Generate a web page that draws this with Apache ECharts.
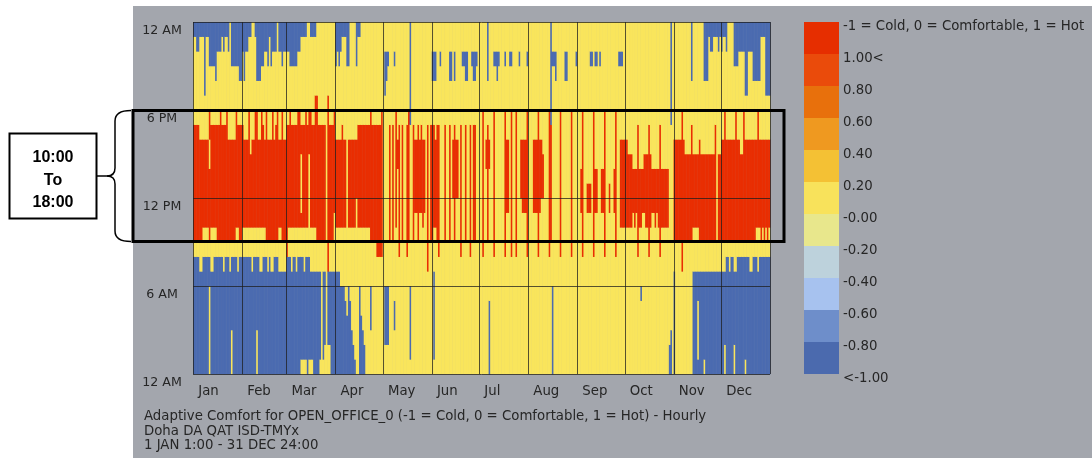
<!DOCTYPE html>
<html>
<head>
<meta charset="utf-8">
<script src="https://cdn.jsdelivr.net/npm/echarts@6/dist/echarts.min.js"></script>
<style>
html,body{margin:0;padding:0;background:#fff}
#chart{width:1092px;height:461px}
</style>
</head>
<body>
<div id="chart"></div>
<script>
// Month names and the day index each month starts on (365-day year)
const monthNames = ['Jan','Feb','Mar','Apr','May','Jun','Jul','Aug','Sep','Oct','Nov','Dec'];
const monthStarts = [0,31,59,90,120,151,181,212,243,273,304,334,365];
// Hour-of-day ticks on the vertical axis
const hourTicks = [0,6,12,18,24];
const hourLabels = ['12 AM','6 AM','12 PM','6 PM','12 AM'];
// Colour legend: title, boundary labels and the eleven colour steps (top to bottom)
const legendTitle = '-1 = Cold, 0 = Comfortable, 1 = Hot';
const legendLabels = ['1.00<','0.80','0.60','0.40','0.20','-0.00','-0.20','-0.40','-0.60','-0.80','<-1.00'];
const legendColors = ['#E62E00','#EA4B0B','#E8700C','#EF9920','#F4C134','#F8E25B','#E8E78C','#BDD2DC','#A7C2EF','#6E8ECA','#4B6AAE'];
const captionLines = [
  'Adaptive Comfort for OPEN_OFFICE_0 (-1 = Cold, 0 = Comfortable, 1 = Hot) - Hourly',
  'Doha DA QAT ISD-TMYx',
  '1 JAN 1:00 - 31 DEC 24:00'
];

// Hourly comfort state per day, run-length coded from hour 0 upwards:
// c = cold (-1), n = comfortable (0), h = hot (1); each day sums to 24 hours.
const jan = ["c8n1h8n6c1","c8n1h8n6c1","c8n1h8n5c2","c8n1h8n5c2","c7n2h7n7c1","c7n2h7n7c1","c8n2h6n7c1","c8n2h6n3c5","c8n2h6n7c1","c8n2h6n7c1","n6c2n1h5n2h2n3c3","c7n3h7n4c3","c7n3h7n4c3","c8n2h7n4c3","c8n2h7n3c4","c8n1h8n5c2","c8n1h8n5c2","c8n1h9n4c2","c8n1h8n6c1","c7n2h8n5c2","c8n1h8n6c1","c8n1h9n5c1","c8n1h7n6c2","c7n2h7n8","n3c5n1h7n5c3","c8n1h7n5c3","c8n1h7n5c3","c8n2h8n3c3","c7n3h7n4c3","c8n1h8n3c4","c8n1h8n3c4"];
const feb = ["c8n2h7n5c2","c8n2h6n4c4","c8n2h6n6c2","c8n2h6n6c2","c8n2h8n5c1","c8n2h5n8c1","c7n3h6n8","c8n2h6n8","c8n2h8n5c1","n3c5n2h8n2c4","c8n2h6n4c4","c7n3h6n4c4","c7n3h8n3c3","c8n2h7n4c3","c8n2h6n6c2","c8n1h9n4c2","c7n2h7n5c3","c8n1h7n7c1","c7n2h7n5c3","c7n2h9n4c2","c8n1h7n6c2","c8n1h8n5c2","c8n1h9n6","c7n3h6n6c2","c7n3h6n6c2","c7n2h9n3c3","c7n2h7n6c2","c7n2h7n6c2"];
const mar = ["c8h9n5c2","c8n2h7n5c2","c8n2h8n3c3","c7n3h7n4c3","c8n2h7n4c3","c8n2h7n4c3","c7n3h7n4c3","c8n2h8n4c2","c8n2h8n4c2","n1c7n2h1n4h2n6c1","n1c7n2h7n6c1","n1c6n3h7n6c1","n1c7n2h8n5c1","c8n2h7n7","n1c7n7h3n6","n1c6n3h8n5c1","n1c6n3h7n6c1","c7n3h7n6c1","c7n3h9n4c1","c7n2h10n5","c7n2h8n7","n1c6n2h8n7","n9h8n7","n1c6n2h8n7","n2c5n2h8n7","n24","n2c5h12n5","n2c5n2h8n7","c7n2h8n7","c7n2h8n7","c7n4h7n6"];
const apr = ["c7n3h6n5c3","c7n3h6n6c2","c7n3h6n5c3","c6n4h6n6c2","c6n4h7n6c1","c6n4h6n7c1","c5n5h6n7c1","c4n17c3","c6n4h6n5c3","c5n5h6n8","c3n7h6n8","c2n8h6n8","c1n9h6n8","n12h4n5c3","n10h7n6c1","c6n4h7n6c1","c4n6h7n7","c3n7h7n7","c2n8h7n7","n10h7n7","n10h7n7","n10h7n7","n3c3n3h9n6","n9h8n7","n9h8n7","n9h8n7","n8h9n7","n8h9n7","n8h9n7","n8h10n6"];
const may = ["n24","n2c4n13c3n2","n2c4n14c2n2","n2c4n15c1n2","n9h8n7","n24","n9h8n7","n3c2n16c1n2","n10h8n6","n14h2n8","n8h9n7","n24","n9h8n7","n24","n24","n8h9n7","n9h9n6","n1c5n11c7","n24","n9h8n7","n11h5n8","n11h5n8","n9h8n7","n11h5n8","n11h6n7","n10h6n8","n11h5n8","n24","n7h10n7","n24","n9h8n7"];
const jun = ["n9h8n3c2n2","n1c6n3h7n3c2n2","n10h6n4c2n2","n9h8n7","n8h9n7","n21c1n2","n24","n24","n9h8n7","n24","n24","n9h8n3c2n2","n20c2n2","n12h4n8","n9h8n3c2n2","n12h4n8","n12h4n8","n24","n8h9n7","n21c1n2","n21c1n2","n9h8n3c2n2","n20c2n2","n24","n8h9n7","n21c1n2","n9h8n3c2n2","n9h8n3c2n2","n21c1n2","n24"];
const jul = ["n24","n24","n8h10n6","n24","n14h2n8","n9h8n3c4","c5n9h2n8","n24","n24","n8h10n3c1n2","n21c1n2","n20c2n2","n21c1n2","n24","n24","n24","n8h10n3c1n2","n11h5n8","n11h5n8","n21c1n2","n8h10n3c1n2","n24","n24","n8h10n6","n24","n21c1n2","n12h4n8","n11h5n8","n11h5n8","n11h5n8","n8h10n3c1n2"];
const aug = ["n24","n24","n24","n11h5n8","n11h5n8","n11h5n8","n8h10n6","n11h5n8","n12h4n8","n12h3n9","n24","n24","n24","n8h10n6","n9h8c7","c6n15c1n2","n21c1n2","n20c2n2","n24","n24","n8h10n6","n24","n24","n20c2n2","n20c2n2","n24","n24","n8h10n6","n24","n24","n21c1n2"];
const sep = ["n24","n24","n11h3n10","n8h10n6","n24","n24","n11h2n11","n11h2n11","n11h2n8c1n2","n21c1n2","n8h10n6","n11h3n7c1n2","n11h3n7c1n2","n24","n21c1n2","n11h3n10","n11h3n10","n8h10n6","n24","n24","n11h2n11","n24","n24","n11h3n10","n8h10n6","n24","n21c1n2","n10h6n5c1n2","n10h6n5c1n2","n10h6n8"];
const oct = ["n10h6n8","n10h6n8","n10h5n9","n10h5n9","n10h5n9","n11h3n10","n10h4n10","n11h3n10","n8h9n7","n10h4n10","n5c1n4h4n10","n11h3n10","n11h4n9","n10h5n9","n10h5n9","n8h9n7","n10h5n9","n11h3n10","n11h3n10","n10h4n10","n11h3n10","n10h4n10","n8h9n7","n10h4n10","n10h4n10","n10h4n10","n10h4n10","n10h4n10","c2n22","c3n14c7","n24"];
const nov = ["c7n2h7n8","n9h7n8","n9h7n8","n9h7n8","n9h7n8","n7h11n6","n9h7n8","n9h6n9","n9h6n9","n9h6n9","n9h6n9","n9h8n3c4","c7n3h5n9","c7n3h5n9","c7n3h5n9","c1n4c2n3h5n9","c7n2h7n8","c7n2h6n9","c7n2h6n9","n1c6n2h6n5c4","c7n2h6n5c4","c7n2h6n5c4","c7n2h6n8c1","c7n2h6n7c2","c7n2h6n7c2","c7n2h6n8c1","c7n2h8n6c1","c7n16c1","c7n2h6n7c2","c7n2h6n8c1"];
const dec = ["c7n2h7n6c2","c7n2h7n7c1","n2c5n2h9n5c1","c8n1h7n6c2","c8n1h7n8","c7n2h7n8","c8n1h7n8","c8n1h7n8","n2c5n2h7n5c3","c7n2h9n3c3","c8n1h7n5c3","c8n1h7n6c2","c8n1h6n7c2","c8n1h6n7c2","c8n1h9n4c2","n1c7n1h7n3c5","c8n1h7n3c5","c8n1h7n6c2","c7n2h7n6c2","c7n2h7n6c2","c8n1h7n4c4","c8n1h7n4c4","c8n2h6n4c4","c7n3h8n2c4","c8n2h6n4c4","c8n1h7n7c1","c8n2h6n7c1","c8n1h7n7c1","c8n2h6n3c5","c8n1h7n3c5","c8n2h6n3c5"];

const stateValue = {c: -1, n: 0, h: 1};
const stateColor = {'-1': '#4B6BB0', '0': '#F9E55C', '1': '#E92E02'};

// Decode the run-length strings into [day, fromHour, toHour, value] runs
const days = [].concat(jan, feb, mar, apr, may, jun, jul, aug, sep, oct, nov, dec);
const runs = [];
days.forEach(function (code, d) {
  let h = 0;
  code.replace(/([cnh])(\d+)/g, function (m, k, n) {
    n = +n;
    runs.push([d, h, Math.min(24, h + n), stateValue[k]]);
    h += n;
    return m;
  });
});

const chart = echarts.init(document.getElementById('chart'));
const FONT = 'DejaVu Sans, Verdana, sans-serif';
const TXT = '#262626';
const BOLD = 'bold 16px Liberation Sans, Arial, sans-serif';
const SMALL = '13.3px ' + FONT;

const legendGraphics = [];
legendColors.forEach(function (c, i) {
  legendGraphics.push({
    type: 'rect', z: 100,
    shape: {x: 804, y: 22 + 32 * i, width: 35, height: 32},
    style: {fill: c}
  });
});
legendGraphics.push({
  type: 'text', z: 100, x: 843, y: 27,
  style: {text: legendTitle, font: SMALL, fill: TXT, verticalAlign: 'middle'}
});
legendLabels.forEach(function (t, i) {
  legendGraphics.push({
    type: 'text', z: 100, x: 843, y: 22 + 32 * (i + 1) + 5,
    style: {text: t, font: SMALL, fill: TXT, verticalAlign: 'middle'}
  });
});
const captionGraphics = captionLines.map(function (t, i) {
  return {
    type: 'text', z: 100, x: 144, y: 417 + 14.5 * i,
    style: {text: t, font: SMALL, fill: TXT, verticalAlign: 'middle'}
  };
});

// Curly brace pointing from the note box to the framed hours
const braceStyle = {stroke: '#000', lineWidth: 1.5, fill: null};
const braceGraphics = [
  {type: 'bezierCurve', z: 120, shape: {x1: 131, y1: 110.5, cpx1: 115, cpy1: 110.5, x2: 115, y2: 121}, style: braceStyle},
  {type: 'line', z: 120, shape: {x1: 115, y1: 121, x2: 115, y2: 168}, style: braceStyle},
  {type: 'bezierCurve', z: 120, shape: {x1: 115, y1: 168, cpx1: 115, cpy1: 176, x2: 107, y2: 176}, style: braceStyle},
  {type: 'bezierCurve', z: 120, shape: {x1: 107, y1: 176, cpx1: 115, cpy1: 176, x2: 115, y2: 184}, style: braceStyle},
  {type: 'line', z: 120, shape: {x1: 115, y1: 184, x2: 115, y2: 231}, style: braceStyle},
  {type: 'bezierCurve', z: 120, shape: {x1: 115, y1: 231, cpx1: 115, cpy1: 241.5, x2: 131, y2: 241.5}, style: braceStyle},
  {type: 'line', z: 120, shape: {x1: 97, y1: 176, x2: 107, y2: 176}, style: braceStyle}
];

const option = {
  backgroundColor: '#ffffff',
  animation: false,
  grid: {left: 193, top: 22, width: 577, height: 352},
  xAxis: {
    type: 'value', min: 0, max: 365,
    axisLine: {show: false}, axisTick: {show: false}, splitLine: {show: false},
    axisLabel: {
      customValues: monthStarts.slice(0, 12).map(function (s) { return s + 3.3; }),
      formatter: function (v) {
        for (let i = 0; i < 12; i++) if (Math.abs(monthStarts[i] + 3.3 - v) < 0.01) return monthNames[i];
        return '';
      },
      align: 'left', verticalAlign: 'top', margin: 11,
      fontFamily: FONT, fontSize: 13.3, color: TXT
    }
  },
  yAxis: {
    type: 'value', min: 0, max: 24, interval: 6,
    axisLine: {show: false}, axisTick: {show: false}, splitLine: {show: false},
    axisLabel: {
      formatter: function (v) { return hourLabels[hourTicks.indexOf(v)]; },
      align: 'center', verticalAlign: 'top', padding: [2, 0, 0, 0], margin: 31,
      fontFamily: FONT, fontSize: 12.6, color: TXT,
      showMinLabel: true, showMaxLabel: true
    }
  },
  visualMap: {
    show: false, type: 'piecewise', dimension: 3, seriesIndex: 0,
    pieces: [
      {value: -1, color: stateColor['-1']},
      {value: 0, color: stateColor['0']},
      {value: 1, color: stateColor['1']}
    ]
  },
  series: [
    {
      name: 'Adaptive Comfort',
      type: 'custom',
      data: runs,
      encode: {x: 0, y: [1, 2]},
      renderItem: function (params, api) {
        const d = api.value(0);
        const p0 = api.coord([d, api.value(2)]);
        const p1 = api.coord([d + 1, api.value(1)]);
        return {
          type: 'rect',
          shape: {x: p0[0], y: p0[1], width: p1[0] - p0[0] + 0.5, height: p1[1] - p0[1] + 0.3},
          style: {fill: api.visual('color')}
        };
      },
      z: 2
    },
    {
      name: 'months',
      type: 'custom',
      data: monthStarts.map(function (s) { return [s]; }),
      renderItem: function (params, api) {
        const a = api.coord([api.value(0), 0]);
        const b = api.coord([api.value(0), 24]);
        const x = Math.round(a[0]) + 0.5;
        return {type: 'line', shape: {x1: x, y1: a[1], x2: x, y2: b[1]},
          style: {stroke: 'rgba(30,30,30,0.75)', lineWidth: 1}};
      },
      silent: true, z: 5
    },
    {
      name: 'hours',
      type: 'custom',
      data: hourTicks.map(function (h) { return [h]; }),
      renderItem: function (params, api) {
        const a = api.coord([0, api.value(0)]);
        const b = api.coord([365, api.value(0)]);
        const y = Math.round(a[1]) + 0.5;
        return {type: 'line', shape: {x1: a[0], y1: y, x2: b[0], y2: y},
          style: {stroke: 'rgba(30,30,30,0.75)', lineWidth: 1}};
      },
      silent: true, z: 5
    }
  ],
  graphic: [
    // grey chart panel
    {type: 'rect', z: -10, shape: {x: 133, y: 6, width: 959, height: 452}, style: {fill: '#A3A6AD'}},
    // highlighted hours frame
    {type: 'rect', z: 120, shape: {x: 133, y: 110.5, width: 651, height: 131}, style: {fill: null, stroke: '#000', lineWidth: 3}},
    // annotation box
    {type: 'rect', z: 120, shape: {x: 9.5, y: 133.5, width: 87, height: 85}, style: {fill: '#fff', stroke: '#000', lineWidth: 2}},
    {type: 'text', z: 121, x: 53, y: 158, style: {text: '10:00', font: BOLD, fill: '#000', align: 'center', verticalAlign: 'middle'}},
    {type: 'text', z: 121, x: 53, y: 181, style: {text: 'To', font: BOLD, fill: '#000', align: 'center', verticalAlign: 'middle'}},
    {type: 'text', z: 121, x: 53, y: 203, style: {text: '18:00', font: BOLD, fill: '#000', align: 'center', verticalAlign: 'middle'}}
  ].concat(braceGraphics, legendGraphics, captionGraphics)
};

chart.setOption(option);
</script>
</body>
</html>
